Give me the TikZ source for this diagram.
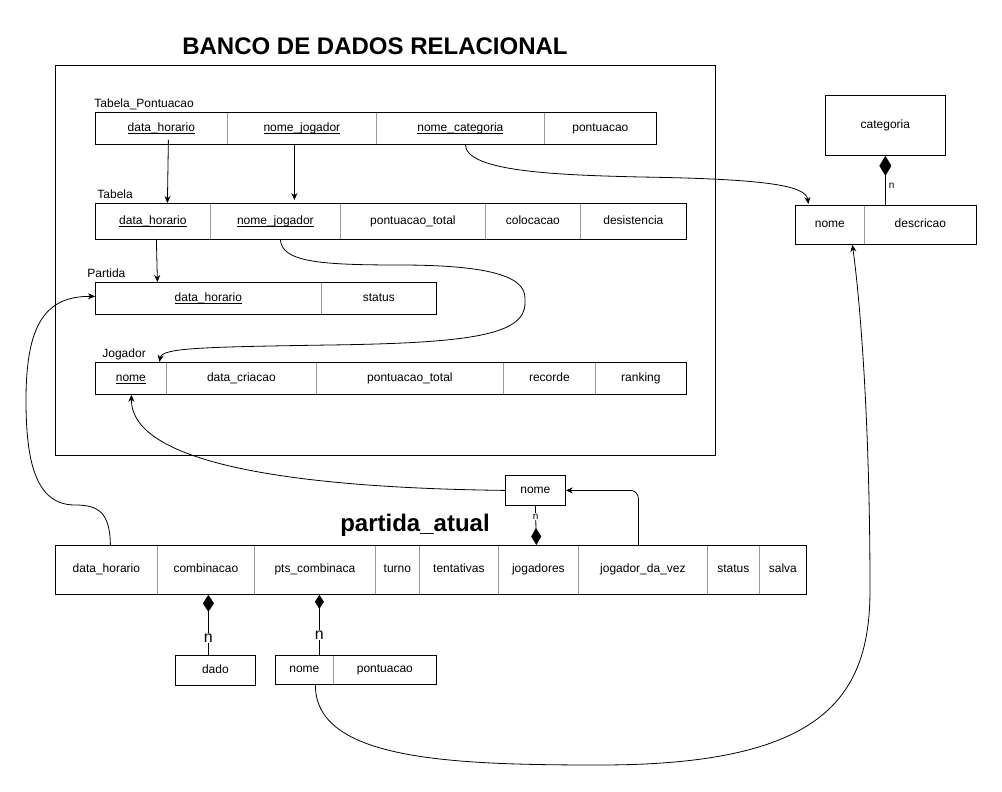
\documentclass[tikz,border=0pt]{standalone}
\usepackage{fontspec}
\setmainfont{Liberation Sans}
\usetikzlibrary{arrows.meta,calc}
\newcommand{\mkcell}[6]{\node[cell,minimum width={#3-#2},minimum height={#5-#4}] (#1) at (#2,#4) {#6};}
\newcommand{\ulin}[1]{\underline{\smash{#1}}}
\begin{document}
\begin{tikzpicture}[x=1pt,y=-1pt,line width=0.8pt,
  cell/.style={draw=gray!80,line width=0.8pt,inner sep=0pt,anchor=north west,text height=8.6pt,text depth=2.6pt,font=\fontsize{12}{14}\selectfont},
  box/.style={draw=black,line width=0.8pt,inner sep=0pt,anchor=north west,text height=8.6pt,text depth=2.6pt,font=\fontsize{12}{14}\selectfont},
  outline/.style={draw=black,line width=0.8pt},
  lbl/.style={anchor=west,inner sep=0pt,text height=8.6pt,text depth=2.6pt,font=\fontsize{12}{14}\selectfont},
  arr/.style={draw=black,line width=0.8pt,-{Stealth[length=7pt,width=6pt]}},
  comp/.style={draw=black,line width=0.8pt},
  nlbl/.style={fill=white,inner sep=1pt}]
\useasboundingbox (0,0) rectangle (1002,792);
\fill[white] (0,0) rectangle (1002,792);

% title and outer frame
\node[font=\bfseries\fontsize{24}{28}\selectfont] (title) at (375,46) {BANCO DE DADOS RELACIONAL};
\node[draw=black,line width=0.8pt,minimum width=660,minimum height=390,anchor=north west,inner sep=0pt] (db) at (55,65) {};

% Tabela_Pontuacao
\node[lbl] (lTP) at (94,104) {Tabela\_Pontuacao};
\mkcell{tp1}{95}{227}{112}{144}{\ulin{data\_horario}}
\mkcell{tp2}{227}{376}{112}{144}{\ulin{nome\_jogador}}
\mkcell{tp3}{376}{544}{112}{144}{\ulin{nome\_categoria}}
\mkcell{tp4}{544}{656}{112}{144}{pontuacao}
\draw[outline] (tp1.north west) rectangle (tp4.south east);

% Tabela
\node[lbl] (lT) at (97,195) {Tabela};
\mkcell{t1}{95}{210}{203}{239}{\ulin{data\_horario}}
\mkcell{t2}{210}{340}{203}{239}{\ulin{nome\_jogador}}
\mkcell{t3}{340}{485}{203}{239}{pontuacao\_total}
\mkcell{t4}{485}{580}{203}{239}{colocacao}
\mkcell{t5}{580}{686}{203}{239}{desistencia}
\draw[outline] (t1.north west) rectangle (t5.south east);

% Partida
\node[lbl] (lP) at (87,274) {Partida};
\mkcell{p1}{95}{321}{282}{314}{\ulin{data\_horario}}
\mkcell{p2}{321}{436}{282}{314}{status}
\draw[outline] (p1.north west) rectangle (p2.south east);

% Jogador
\node[lbl] (lJ) at (102,354) {Jogador};
\mkcell{j1}{95}{166}{362}{394}{\ulin{nome}}
\mkcell{j2}{166}{316}{362}{394}{data\_criacao}
\mkcell{j3}{316}{503}{362}{394}{pontuacao\_total}
\mkcell{j4}{503}{595}{362}{394}{recorde}
\mkcell{j5}{595}{686}{362}{394}{ranking}
\draw[outline] (j1.north west) rectangle (j5.south east);

% categoria
\node[box,minimum width=120,minimum height=60] (cat) at (825,95) {categoria};
\mkcell{cd1}{795}{864}{205}{244}{nome}
\mkcell{cd2}{864}{976}{205}{244}{descricao}
\draw[outline] (cd1.north west) rectangle (cd2.south east);

% partida_atual
\node[font=\bfseries\fontsize{24}{28}\selectfont] (patitle) at (415,525) {partida\_atual};
\mkcell{pa1}{55}{157}{545}{594}{data\_horario}
\mkcell{pa2}{157}{254}{545}{594}{combinacao}
\mkcell{pa3}{254}{375}{545}{594}{pts\_combinaca}
\mkcell{pa4}{375}{419}{545}{594}{turno}
\mkcell{pa5}{419}{498}{545}{594}{tentativas}
\mkcell{pa6}{498}{578}{545}{594}{jogadores}
\mkcell{pa7}{578}{707}{545}{594}{jogador\_da\_vez}
\mkcell{pa8}{707}{759}{545}{594}{status}
\mkcell{pa9}{759}{806}{545}{594}{salva}
\draw[outline] (pa1.north west) rectangle (pa9.south east);

\node[box,minimum width=60,minimum height=30] (pn) at (505,475) {nome};
\node[box,minimum width=80,minimum height=30] (dado) at (175,655) {dado};
\mkcell{pn2a}{275}{333}{655}{684}{nome}
\mkcell{pn2b}{333}{436}{655}{684}{pontuacao}
\draw[outline] (pn2a.north west) rectangle (pn2b.south east);

% foreign-key arrows
\draw[arr] ([xshift=7pt,yshift=5pt]tp1.south) -- ([xshift=14.5pt]t1.north);
\draw[arr] ([xshift=-7.5pt]tp2.south) -- ([xshift=19pt,yshift=3pt]t2.north);
\draw[arr] ([xshift=5pt]tp3.south) .. controls (466,172) and (560,175) .. (640,177)
  .. controls (770,179) and (806,186) .. ([xshift=-21.5pt,yshift=1pt]cd1.north);
\draw[arr] ([xshift=3.5pt]t1.south) -- ([xshift=-51pt]p1.north);
\draw[arr] ([xshift=5pt]t2.south) .. controls (282,262) and (320,265) .. (400,265)
  .. controls (530,265) and (525,290) .. (525,303)
  .. controls (525,335) and (470,343) .. (330,345)
  .. controls (200,347) and (162,348) .. ([xshift=28.5pt]j1.north);
\draw[arr] ([xshift=4pt]pa1.north) .. controls (110,512) and (98,505) .. (75,505)
  .. controls (35,505) and (26,460) .. (26,400)
  .. controls (26,325) and (45,296) .. ([yshift=2pt]p1.west);
\draw[arr] (pn.west) .. controls (300,488) and (131,465) .. ([xshift=0.5pt]j1.south);
\draw[arr,rounded corners=8pt] ([xshift=-4.5pt]pa7.north) |- (pn.east);
\draw[arr] ([xshift=11pt]pn2a.south) .. controls (315,760) and (450,765) .. (600,765)
  .. controls (820,765) and (870,700) .. (870,590)
  .. controls (870,420) and (860,300) .. ([xshift=22.5pt]cd1.south);

% composition links
\draw[comp,-{Diamond[length=20pt,width=12pt]}] ([xshift=-35pt]cd2.north) -- node[pos=0.38,right,inner sep=3pt,font=\fontsize{10}{12}\selectfont] {n} (cat.south);
\draw[comp,-{Diamond[length=17pt,width=10pt]}] (pn.south) -- node[pos=0.28,nlbl,font=\fontsize{10}{12}\selectfont] {n} ([xshift=-2pt]pa6.north);
\draw[comp,{Diamond[length=17pt,width=11pt]}-] ([xshift=2.5pt]pa2.south) -- node[pos=0.72,nlbl,font=\fontsize{16}{18}\selectfont] {n} ([xshift=2.5pt]pa2.south |- dado.north);
\draw[comp,{Diamond[length=14pt,width=9pt]}-] ([xshift=4.5pt]pa3.south) -- node[pos=0.67,nlbl,font=\fontsize{16}{18}\selectfont] {n} ([xshift=4.5pt]pa3.south |- pn2a.north);
\end{tikzpicture}
\end{document}
